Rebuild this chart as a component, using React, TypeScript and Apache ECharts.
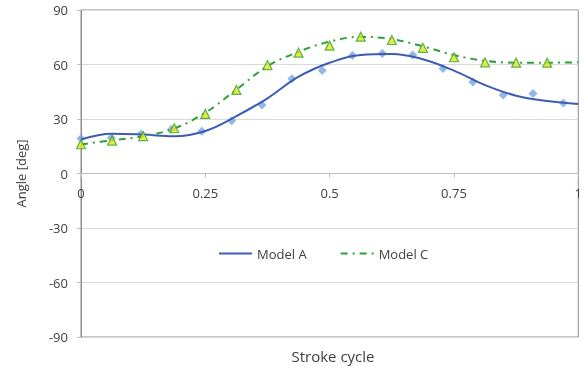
import React, { useEffect, useRef } from "react";
import * as echarts from "echarts";

const curveX = [0, 0.0625, 0.125, 0.1875, 0.25, 0.3125, 0.375, 0.4375, 0.5, 0.5625, 0.625, 0.6875, 0.75, 0.8125, 0.875, 0.9375, 1];
const modelACurve = [18.8, 21.9, 21.4, 20.5, 23.4, 31.6, 41.4, 53.3, 61.0, 65.2, 65.8, 62.9, 56.6, 48.7, 42.8, 39.9, 38.3];
const modelCCurve = [16.0, 18.3, 20.5, 24.8, 33.5, 46.2, 59.0, 67.0, 72.6, 75.2, 74.0, 70.0, 65.2, 62.0, 61.0, 61.0, 61.2];

const dataAX = [0, 0.061, 0.121, 0.182, 0.243, 0.303, 0.364, 0.424, 0.485, 0.546, 0.606, 0.667, 0.728, 0.788, 0.849, 0.909, 0.97];
const dataAY = [19.2, 19.7, 21.7, 24.4, 23.2, 29.0, 37.7, 52.1, 56.7, 64.9, 66.0, 65.2, 57.8, 50.3, 43.2, 44.1, 38.8];

const dataCX = [0, 0.0625, 0.125, 0.1875, 0.25, 0.3125, 0.375, 0.4375, 0.5, 0.5625, 0.625, 0.6875, 0.75, 0.8125, 0.875, 0.9375];
const dataCY = [16.1, 18.1, 20.6, 24.9, 32.8, 46.0, 59.7, 66.5, 70.4, 75.3, 73.5, 69.2, 64.0, 61.2, 61.0, 61.0];

const seriesNames = ["Model A", "Model C"];
const xTitle = "Stroke cycle";
const yTitle = "Angle [deg]";

const zip = (xs: number[], ys: number[]) => xs.map((x, i) => [x, ys[i]]);

const FONT = "'Open Sans', sans-serif";
const TEXT = "#404040";

export default function App() {
  const ref = useRef<HTMLDivElement>(null);
  useEffect(() => {
    if (!ref.current) return;
    const chart = echarts.init(ref.current, undefined, { renderer: "svg" });
    chart.setOption({
      animation: false,
      textStyle: { fontFamily: FONT },
      title: {
        text: xTitle,
        left: 333,
        top: 348,
        padding: 0,
        textAlign: "center",
        textStyle: { fontFamily: FONT, fontSize: 15, fontWeight: "normal", color: TEXT },
      },
      grid: {
        left: 81,
        right: 3,
        top: 10,
        bottom: 34,
        show: true,
        borderColor: "#8c8c8c",
        borderWidth: 1,
        backgroundColor: "transparent",
      },
      legend: {
        data: seriesNames,
        left: 218,
        top: 247,
        padding: 0,
        itemWidth: 33,
        itemHeight: 14,
        itemGap: 33,
        itemStyle: { opacity: 0 },
        textStyle: { fontFamily: FONT, fontSize: 13, color: TEXT },
      },
      xAxis: {
        type: "value",
        min: 0,
        max: 1,
        interval: 0.25,
        position: "bottom",
        offset: -163.5,
        axisLine: { onZero: false, lineStyle: { color: "#bfbfbf", width: 1 } },
        axisTick: { show: true, length: 4, lineStyle: { color: "#bfbfbf" } },
        axisLabel: { fontFamily: FONT, fontSize: 13, color: TEXT, margin: 13 },
        splitLine: { show: false },
      },
      yAxis: {
        type: "value",
        min: -90,
        max: 90,
        interval: 30,
        name: yTitle,
        nameLocation: "middle",
        nameGap: 54,
        nameTextStyle: { fontFamily: FONT, fontSize: 13, color: TEXT },
        axisLine: { show: true, onZero: false, lineStyle: { color: "#8c8c8c", width: 1 } },
        axisTick: { show: true, length: 4, lineStyle: { color: "#bfbfbf" } },
        axisLabel: { fontFamily: FONT, fontSize: 13, color: TEXT, margin: 13 },
        splitLine: { show: true, lineStyle: { color: "#d9d9d9", width: 1 } },
      },
      series: [
        {
          name: "Model A data",
          type: "scatter",
          data: zip(dataAX, dataAY),
          symbol: "diamond",
          symbolSize: 9,
          itemStyle: { color: "#78a6de" },
          z: 2,
        },
        {
          name: seriesNames[0],
          type: "line",
          data: zip(curveX, modelACurve),
          smooth: 0.4,
          symbol: "none",
          lineStyle: { color: "#3f5cb3", width: 2 },
          itemStyle: { color: "#3f5cb3" },
          z: 3,
        },
        {
          name: seriesNames[1],
          type: "line",
          data: zip(curveX, modelCCurve),
          smooth: 0.4,
          symbol: "none",
          lineStyle: { color: "#2ea03a", width: 2, type: [7, 5, 2, 5] },
          itemStyle: { color: "#2ea03a" },
          z: 4,
        },
        {
          name: "Model C data",
          type: "scatter",
          data: zip(dataCX, dataCY),
          symbol: "triangle",
          symbolSize: 9,
          itemStyle: { color: "#e3e31a", borderColor: "#35a335", borderWidth: 1.2 },
          z: 5,
        },
      ],
    });
    return () => chart.dispose();
  }, []);
  return (
    <div
      ref={ref}
      style={{ position: "fixed", left: 0, top: 0, width: 585, height: 371 }}
    />
  );
}
